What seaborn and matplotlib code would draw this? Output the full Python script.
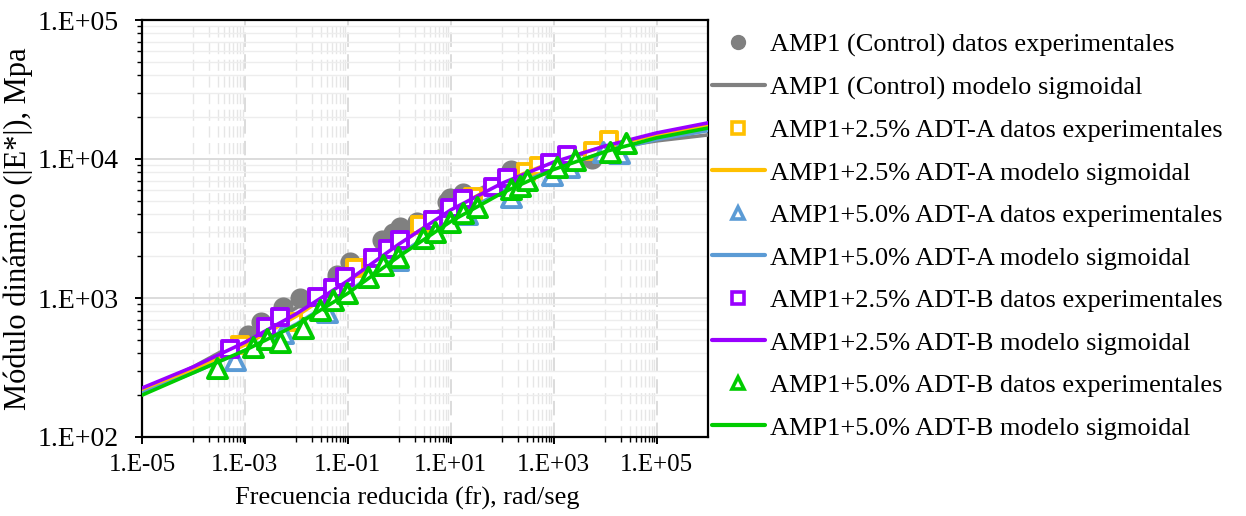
import numpy as np
import matplotlib
matplotlib.use("Agg")
import matplotlib.pyplot as plt
import matplotlib.ticker as mticker
from matplotlib.lines import Line2D
import seaborn as sns

# ==========================
# Data
# ==========================
# sigmoid model curves, sampled once per decade
fr_model = [1e-5, 1e-4, 1e-3, 1e-2, 1e-1, 1e0, 1e1, 1e2, 1e3, 1e4, 1e5, 1e6]
ctrl_model = [212, 320, 510, 850, 1500, 2800, 4800, 7300, 9700, 11800, 13500, 14900]
a25_model = [214, 305, 460, 740, 1300, 2450, 4300, 6800, 9600, 12300, 14900, 17300]
a50_model = [207, 290, 420, 650, 1100, 2050, 3650, 5900, 8500, 11200, 13800, 16000]
b25_model = [225, 320, 480, 770, 1330, 2450, 4300, 6700, 9500, 12400, 15400, 18200]
b50_model = [200, 290, 420, 640, 1080, 2000, 3550, 5700, 8400, 11300, 14200, 16700]

# experimental points
ctrl_fr = [1.15e-3, 2.1e-3, 5.5e-3, 1.17e-2, 6.2e-2, 0.11, 0.46, 0.74, 1.02, 2.2, 8.3, 9.6, 17, 151, 5460]
ctrl_E = [542, 672, 861, 1000, 1463, 1815, 2614, 2935, 3243, 3520, 4906, 5240, 5693, 8336, 10000]

a25_fr = [7.9e-4, 8.5e-3, 0.138, 2.5, 27, 288, 516, 5770, 11700]
a25_E = [459, 672, 1644, 3350, 5330, 8060, 8910, 11430, 13700]

a50_fr = [6.5e-4, 5.5e-3, 3.9e-2, 0.93, 21, 151, 912, 1950, 9300, 19000]
a50_E = [358, 560, 793, 1877, 4020, 5330, 7670, 8760, 11220, 11050]

b25_fr = [5.1e-4, 2.6e-3, 4.8e-3, 2.5e-2, 5.1e-2, 8.8e-2, 0.31, 0.61, 1.02, 4.5, 9.6, 17, 66, 124, 840, 1780]
b25_E = [430, 619, 730, 1017, 1180, 1416, 1941, 2252, 2614, 3640, 4440, 5160, 6290, 7300, 9360, 10680]

b50_fr = [2.9e-4, 1.44e-3, 2.7e-3, 4.8e-3, 1.35e-2, 2.9e-2, 5.1e-2, 9.6e-2, 0.25, 0.48, 0.93,
          2.9, 4.9, 9.6, 17, 32, 151, 218, 300, 1150, 2560, 12300, 25000]
b50_E = [314, 444, 507, 482, 608, 820, 968, 1087, 1416, 1727, 1972,
         2703, 2985, 3520, 4090, 4515, 6085, 6390, 7060, 8760, 9840, 11220, 13030]

names = ["AMP1 (Control)", "AMP1+2.5% ADT-A", "AMP1+5.0% ADT-A",
         "AMP1+2.5% ADT-B", "AMP1+5.0% ADT-B"]
colors = ["#808080", "#FFC000", "#5B9BD5", "#9900FF", "#00CC00"]
markers = ["o", "s", "^", "s", "^"]

series = [
    (ctrl_fr, ctrl_E, ctrl_model),
    (a25_fr, a25_E, a25_model),
    (a50_fr, a50_E, a50_model),
    (b25_fr, b25_E, b25_model),
    (b50_fr, b50_E, b50_model),
]

# ==========================
# Plot
# ==========================
sns.set_theme(style="white")
plt.rcParams["font.family"] = ["Liberation Serif", "DejaVu Serif"]
plt.rcParams["text.color"] = "black"
plt.rcParams["axes.labelcolor"] = "black"
plt.rcParams["xtick.color"] = "black"
plt.rcParams["ytick.color"] = "black"

fig = plt.figure(figsize=(12.46, 5.16), dpi=100)
ax = fig.add_axes([142 / 1246, 1 - 437 / 516, (708 - 142) / 1246, (437 - 20) / 516])
ax.set_xscale("log")
ax.set_yscale("log")

handles = []
labels = []
z = 3
for (fr, E, model), name, col, mk in zip(series, names, colors, markers):
    if mk == "o":
        sns.scatterplot(x=fr, y=E, ax=ax, marker="o", s=210, color=col,
                        edgecolor=col, linewidth=0, legend=False, zorder=z)
        h = Line2D([], [], ls="", marker="o", ms=10, color=col, mec=col)
    else:
        size = 140 if mk == "s" else 190
        sns.scatterplot(x=fr, y=E, ax=ax, marker=mk, s=size, facecolor="white",
                        edgecolor=col, linewidth=2.8, legend=False, zorder=z)
        h = Line2D([], [], ls="", marker=mk, ms=8.5, mfc="white", mec=col, mew=2.6)
    handles.append(h)
    labels.append(name + " datos experimentales")
    z += 1
    sns.lineplot(x=fr_model, y=model, ax=ax, color=col, lw=2.6, legend=False, zorder=z)
    handles.append(Line2D([], [], color=col, lw=3))
    labels.append(name + " modelo sigmoidal")
    z += 1

ax.set_xlim(1e-5, 1e6)
ax.set_ylim(1e2, 1e5)

fmt = mticker.FuncFormatter(lambda v, p: f"1.E{int(round(np.log10(v))):+03d}")
ax.xaxis.set_major_locator(mticker.FixedLocator([1e-5, 1e-3, 1e-1, 1e1, 1e3, 1e5]))
ax.xaxis.set_minor_locator(mticker.FixedLocator(
    [k * 10.0 ** e for e in (-4, -2, 0, 2, 4) for k in range(1, 10)]))
ax.xaxis.set_major_formatter(fmt)
ax.xaxis.set_minor_formatter(mticker.NullFormatter())
ax.yaxis.set_major_locator(mticker.LogLocator(base=10))
ax.yaxis.set_minor_locator(mticker.LogLocator(base=10, subs=range(2, 10)))
ax.yaxis.set_major_formatter(fmt)
ax.yaxis.set_minor_formatter(mticker.NullFormatter())

ax.grid(which="major", axis="y", color="#d9d9d9", lw=1.3)
ax.grid(which="minor", axis="y", color="#ededed", lw=1.0)
ax.grid(which="major", axis="x", color="#d9d9d9", lw=1.3, ls=(0, (8, 4)))
ax.grid(which="minor", axis="x", color="#e6e6e6", lw=1.0, ls=(0, (8, 4)))
ax.set_axisbelow(True)

for sp in ax.spines.values():
    sp.set_color("black")
    sp.set_linewidth(1.6)

ax.tick_params(axis="both", which="major", direction="out", length=5, width=1.4,
               color="black", left=True, bottom=True)
ax.tick_params(axis="both", which="minor", direction="out", length=3.5, width=1.0,
               color="black", left=True, bottom=True)
ax.tick_params(axis="x", which="major", labelsize=18, pad=7)
ax.tick_params(axis="y", which="major", labelsize=20, pad=12)

ax.set_xlabel("Frecuencia reducida (fr), rad/seg", fontsize=19)
ax.set_ylabel("Módulo dinámico (|E*|), Mpa", fontsize=22)
ax.xaxis.set_label_coords(0.468, -0.12)
ax.yaxis.set_label_coords(-0.192, 0.5)

fig.legend(handles, labels, loc="upper left", bbox_to_anchor=(712 / 1246, 1 - 33 / 516),
           frameon=False, fontsize=19, handlelength=2.0, handletextpad=0.2,
           labelspacing=0.72, borderaxespad=0, borderpad=0)

fig.savefig("out.png", dpi=100)
